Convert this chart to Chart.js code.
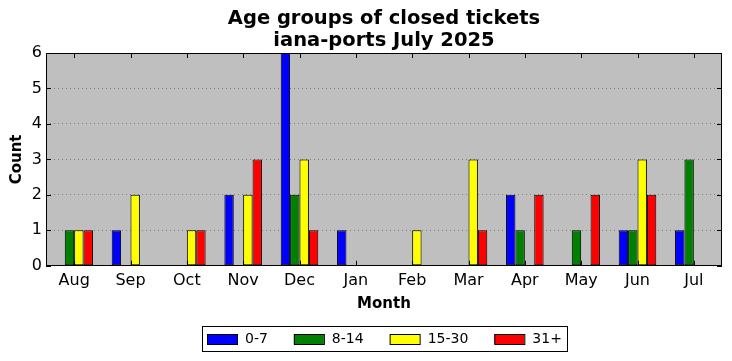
<!DOCTYPE html>
<html>
<head>
<meta charset="utf-8">
<script src="https://cdn.jsdelivr.net/npm/chart.js@4/dist/chart.umd.min.js"></script>
<style>
  html, body { margin: 0; padding: 0; background: #fff; }
  #wrap { width: 732px; height: 361px; }
</style>
</head>
<body>
<div id="wrap"><canvas id="chart"></canvas></div>
<script>
const months = ['Aug', 'Sep', 'Oct', 'Nov', 'Dec', 'Jan', 'Feb', 'Mar', 'Apr', 'May', 'Jun', 'Jul'];
const age0to7 = [0, 1, 0, 2, 6, 1, 0, 0, 2, 0, 1, 1];
const age8to14 = [1, 0, 0, 0, 2, 0, 0, 0, 1, 1, 1, 3];
const age15to30 = [1, 2, 1, 2, 3, 0, 1, 3, 0, 0, 3, 0];
const age31plus = [1, 0, 1, 3, 1, 0, 0, 1, 2, 2, 2, 0];
const yTicks = [0, 1, 2, 3, 4, 5, 6];
const titleLines = ['Age groups of closed tickets', 'iana-ports July 2025'];

const font = 'DejaVu Sans';

// gray plot background, black frame, inward ticks, title and legend centred on the plot
const frame = {
  id: 'frame',
  beforeDraw(chart) {
    const a = chart.chartArea, ctx = chart.ctx;
    ctx.save();
    ctx.fillStyle = '#bfbfbf';
    ctx.fillRect(a.left, a.top, a.right - a.left, a.bottom - a.top);
    ctx.restore();
  },
  afterDraw(chart) {
    const a = chart.chartArea, ctx = chart.ctx;
    const x = chart.scales.x, y = chart.scales.y;
    const cx = (a.left + a.right) / 2;
    ctx.save();
    ctx.strokeStyle = '#000';
    ctx.lineWidth = 1;
    ctx.strokeRect(Math.round(a.left) + 0.5, Math.round(a.top) + 0.5,
      Math.round(a.right - a.left) - 1, Math.round(a.bottom - a.top) - 1);
    ctx.beginPath();
    x.ticks.forEach((t, i) => {
      const px = Math.round(x.getPixelForTick(i)) + 0.5;
      ctx.moveTo(px, a.bottom); ctx.lineTo(px, a.bottom - 5);
      ctx.moveTo(px, a.top); ctx.lineTo(px, a.top + 5);
    });
    y.ticks.forEach((t, i) => {
      const py = Math.round(y.getPixelForTick(i)) + 0.5;
      ctx.moveTo(a.left, py); ctx.lineTo(a.left + 5, py);
      ctx.moveTo(a.right, py); ctx.lineTo(a.right - 5, py);
    });
    ctx.stroke();

    // legend
    ctx.font = '14px "' + font + '"';
    ctx.textBaseline = 'middle';
    ctx.textAlign = 'left';
    const boxW = 30, boxH = 10, gap = 8, spacing = 26, pad = 5;
    const items = chart.data.datasets.map(d => ({ d, w: ctx.measureText(d.label).width }));
    const total = items.reduce((s, it) => s + boxW + gap + it.w, 0) + spacing * (items.length - 1);
    const ly = 338.5;
    let lx = Math.round(cx - total / 2);
    ctx.strokeRect(lx - pad + 0.5, 326.5, Math.round(total + 2 * pad), 25);
    items.forEach(it => {
      ctx.fillStyle = it.d.backgroundColor;
      ctx.fillRect(lx, Math.round(ly - boxH / 2), boxW, boxH);
      ctx.strokeRect(lx + 0.5, Math.round(ly - boxH / 2) + 0.5, boxW, boxH);
      ctx.fillStyle = '#000';
      ctx.fillText(it.d.label, lx + boxW + gap, ly + 1);
      lx += boxW + gap + it.w + spacing;
    });

    // title
    ctx.fillStyle = '#000';
    ctx.font = 'bold 19.5px "' + font + '"';
    ctx.textAlign = 'center';
    ctx.fillText(titleLines[0], cx, 19);
    ctx.fillText(titleLines[1], cx, 41);
    ctx.restore();
  }
};

function series(label, data, color) {
  return {
    label, data,
    backgroundColor: color,
    borderColor: '#000',
    borderWidth: 1,
    borderSkipped: false,
    categoryPercentage: 0.667,
    barPercentage: 1.0
  };
}

new Chart(document.getElementById('chart'), {
  type: 'bar',
  data: {
    labels: months,
    datasets: [
      series('0-7', age0to7, '#0000ff'),
      series('8-14', age8to14, '#008000'),
      series('15-30', age15to30, '#ffff00'),
      series('31+', age31plus, '#ff0000')
    ]
  },
  options: {
    responsive: true,
    maintainAspectRatio: false,
    animation: false,
    layout: { padding: { left: 8, right: 10, top: 53, bottom: 48 } },
    plugins: {
      title: { display: false },
      legend: { display: false },
      tooltip: { enabled: false }
    },
    scales: {
      x: {
        grid: { display: false, drawTicks: false },
        border: { display: false },
        ticks: { color: '#000', font: { family: font, size: 16 }, padding: 5, maxRotation: 0 },
        title: { display: true, text: 'Month', color: '#000', font: { family: font, size: 15, weight: 'bold' }, padding: { top: 0, bottom: 0 } }
      },
      y: {
        min: 0, max: 6,
        afterBuildTicks(scale) { scale.ticks = yTicks.map(v => ({ value: v })); },
        afterFit(scale) { scale.width = 38; },
        grid: { color: '#808080', lineWidth: 1, drawTicks: false },
        border: { display: false, dash: [1, 3] },
        ticks: { color: '#000', font: { family: font, size: 16 }, padding: 4 },
        title: { display: true, text: 'Count', color: '#000', font: { family: font, size: 15, weight: 'bold' }, padding: { top: 0, bottom: 4 } }
      }
    }
  },
  plugins: [frame]
});
</script>
</body>
</html>
